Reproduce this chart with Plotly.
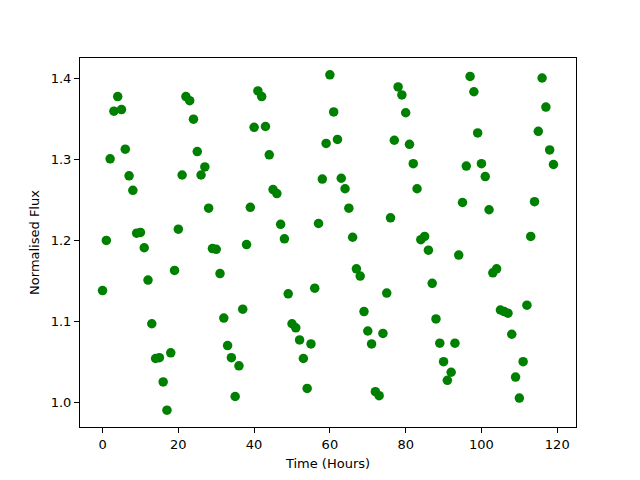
import plotly.graph_objects as go

hours = list(range(120))
flux = [
    1.138, 1.200, 1.301, 1.360, 1.378, 1.362, 1.313, 1.280, 1.262, 1.209,
    1.210, 1.191, 1.151, 1.097, 1.054, 1.055, 1.025, 0.990, 1.061, 1.163,
    1.214, 1.281, 1.378, 1.373, 1.350, 1.310, 1.281, 1.291, 1.240, 1.190,
    1.189, 1.159, 1.104, 1.070, 1.055, 1.007, 1.045, 1.115, 1.195, 1.241,
    1.340, 1.385, 1.378, 1.341, 1.306, 1.263, 1.258, 1.220, 1.202, 1.134,
    1.097, 1.092, 1.077, 1.054, 1.017, 1.072, 1.141, 1.221, 1.276, 1.320,
    1.405, 1.359, 1.325, 1.277, 1.264, 1.240, 1.204, 1.165, 1.156, 1.112,
    1.088, 1.072, 1.013, 1.008, 1.085, 1.135, 1.228, 1.324, 1.390, 1.380,
    1.358, 1.319, 1.295, 1.264, 1.201, 1.205, 1.188, 1.147, 1.103, 1.073,
    1.050, 1.027, 1.037, 1.073, 1.182, 1.247, 1.292, 1.403, 1.384, 1.333,
    1.295, 1.279, 1.238, 1.160, 1.165, 1.114, 1.112, 1.110, 1.084, 1.031,
    1.005, 1.050, 1.120, 1.205, 1.248, 1.335, 1.401, 1.365, 1.312, 1.294,
]
x_ticks = [0, 20, 40, 60, 80, 100, 120]
y_ticks = [1.0, 1.1, 1.2, 1.3, 1.4]

fig = go.Figure(go.Scatter(
    x=hours, y=flux, mode="markers",
    marker=dict(color="#008000", size=9.5, line=dict(width=0)),
))

xmin, xmax = min(hours), max(hours)
ymin, ymax = min(flux), max(flux)
xpad = (xmax - xmin) * 0.05
ypad = (ymax - ymin) * 0.05

axis_common = dict(
    showgrid=False, zeroline=False, showline=True, linecolor="black", linewidth=1,
    mirror=True, ticks="outside", ticklen=5, tickwidth=1, tickcolor="black",
    tickfont=dict(family="DejaVu Sans", size=13, color="black"),
)
fig.update_xaxes(range=[xmin - xpad, xmax + xpad], tickvals=x_ticks,
                 ticktext=[str(v) for v in x_ticks],
                 title=dict(text="Time (Hours)", font=dict(family="DejaVu Sans", size=13, color="black"), standoff=8),
                 **axis_common)
fig.update_yaxes(range=[ymin - ypad, ymax + ypad], tickvals=y_ticks,
                 ticktext=[f"{v:.1f}" for v in y_ticks],
                 title=dict(text="Normalised Flux", font=dict(family="DejaVu Sans", size=13, color="black"), standoff=8),
                 **axis_common)
fig.update_layout(
    width=640, height=480, margin=dict(l=72, r=72, t=50, b=61),
    plot_bgcolor="white", paper_bgcolor="white", showlegend=False,
)
fig.write_html("out.html")
